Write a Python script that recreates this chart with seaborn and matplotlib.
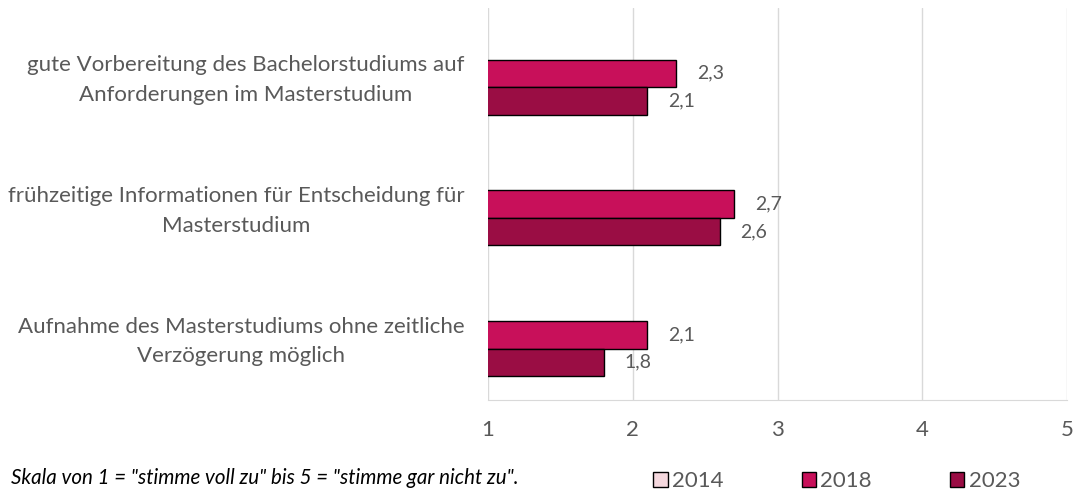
import pandas as pd
import seaborn as sns
import matplotlib.pyplot as plt
import numpy as np
from matplotlib.patches import Patch

categories = [
    "gute Vorbereitung des Bachelorstudiums auf\nAnforderungen im Masterstudium",
    "frühzeitige Informationen für Entscheidung für\nMasterstudium",
    "Aufnahme des Masterstudiums ohne zeitliche\nVerzögerung möglich",
]
years = ["2014", "2018", "2023"]
values_2014 = [np.nan, np.nan, np.nan]
values_2018 = [2.3, 2.7, 2.1]
values_2023 = [2.1, 2.6, 1.8]
colors = ["#F5D8DE", "#C8105A", "#9A0D44"]
footnote = 'Skala von 1 = "stimme voll zu" bis 5 = "stimme gar nicht zu".'

df = pd.DataFrame({
    "category": categories * 3,
    "year": [y for y in years for _ in categories],
    "value": values_2014 + values_2018 + values_2023,
})

sns.set_style("white")
plt.rcParams["font.family"] = ["Lato", "DejaVu Sans"]
grey = "#595959"

fig = plt.figure(figsize=(10.92, 4.96), dpi=100)
ax = fig.add_axes([0.447, 0.193, 0.53, 0.791])

sns.barplot(data=df, y="category", x="value", hue="year", hue_order=years,
            order=categories, palette=colors, saturation=1, orient="h", width=0.63,
            edgecolor="black", linewidth=1.0, ax=ax, legend=False)

ax.set_xlim(1, 5)
ax.set_ylim(2.5, -0.5)
ax.set_xticks([1, 2, 3, 4, 5])
ax.xaxis.grid(True, color="#D9D9D9", linewidth=1)
ax.set_axisbelow(True)
for side in ["top", "right", "left"]:
    ax.spines[side].set_visible(False)
ax.spines["bottom"].set_color("#D9D9D9")
ax.set_xlabel("")
ax.set_ylabel("")
ax.tick_params(axis="x", colors=grey, labelsize=16, length=0, pad=14)
ax.tick_params(axis="y", colors=grey, labelsize=16, length=0, pad=17)
for lbl in ax.get_yticklabels():
    lbl.set_multialignment("center")
    lbl.set_linespacing(1.6)

for cont in ax.containers:
    labels = ["" if np.isnan(v) else f"{v:.1f}".replace(".", ",") for v in cont.datavalues]
    ax.bar_label(cont, labels=labels, padding=15, color=grey, fontsize=14)

handles = [Patch(facecolor=c, edgecolor="black", linewidth=1.0) for c in colors]
fig.legend(handles, years, loc="center left", bbox_to_anchor=(0.58, 0.03), ncol=3,
           frameon=False, fontsize=16, labelcolor=grey, handlelength=0.65,
           handleheight=0.65, handletextpad=0.2, columnspacing=3.5)

fig.text(0.01, 0.036, footnote, style="italic", fontsize=14.8, color="black", va="center")

plt.savefig("out.png", dpi=100)
plt.close()
